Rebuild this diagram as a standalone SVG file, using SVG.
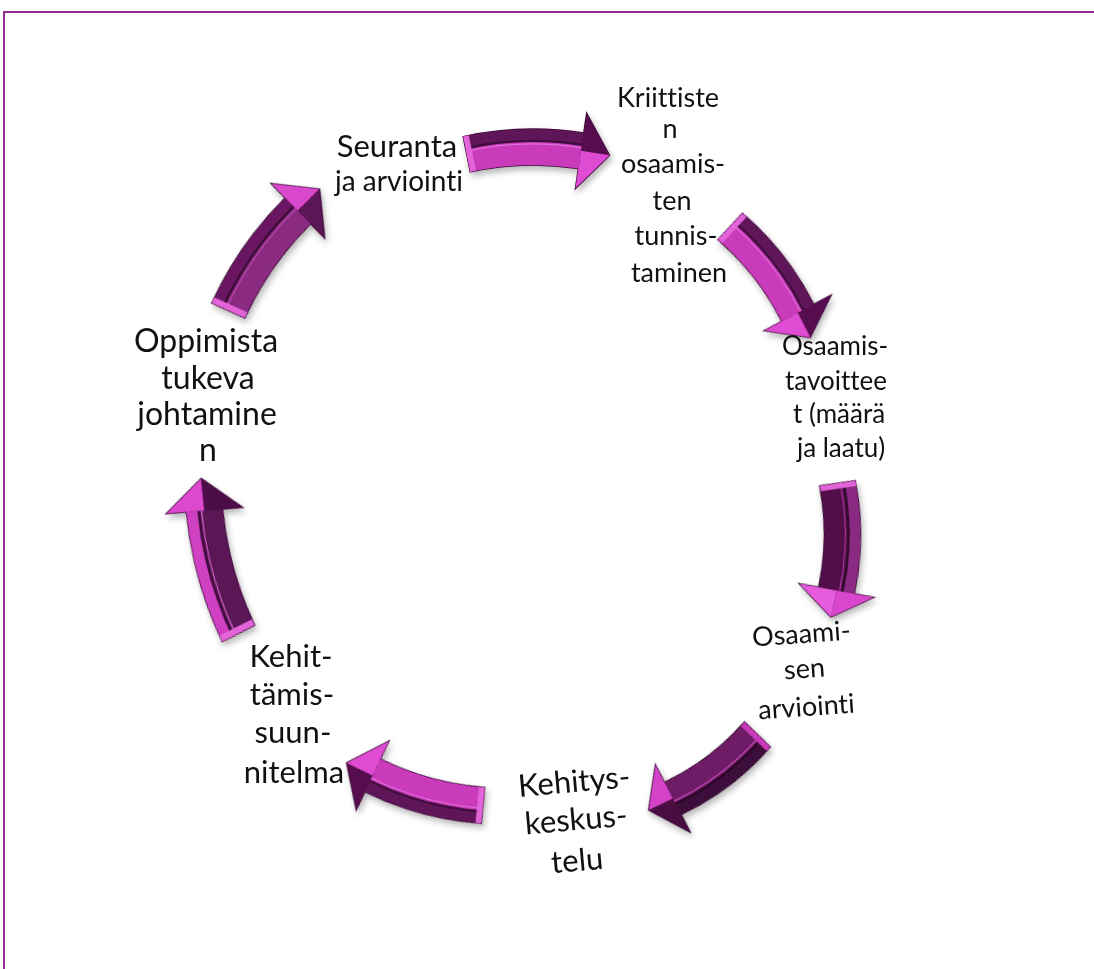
<svg xmlns="http://www.w3.org/2000/svg" xmlns:xlink="http://www.w3.org/1999/xlink" width="1094" height="969" viewBox="0 0 1094 969">
<style>
  text { font-family: Lato, "Open Sans", "Liberation Sans", sans-serif; fill: #111; text-anchor: middle; font-variant-ligatures: none; font-feature-settings: "liga" 0, "clig" 0; }
  .frame { fill: none; stroke: #922c8f; stroke-width: 2; }
  .va { --s:#3c0a38; --o:#5f1559; --i:#c93bbb; --ho:#55114f; --hi:#df4bd2; --b:#e364d8; --g:#3e0b3a; --gl:#e070d6; }
  .vb { --s:#3c0a38; --o:#cf40c2; --i:#5a1454; --ho:#dc48cf; --hi:#4e0f49; --b:#e364d8; --g:#3e0b3a; --gl:#e070d6; }
  .vc { --s:#34082f; --o:#8a2a82; --i:#521049; --ho:#d946cc; --hi:#e65ade; --b:#e364d8; --g:#2e072a; --gl:#b23aa6; }
  .vd { --s:#2c0628; --o:#3e0c3a; --i:#6e1d66; --ho:#480e43; --hi:#d442c7; --b:#c93bbb; --g:#2a0626; --gl:#d24fc6; }
  .ve { --s:#34082f; --o:#6a1863; --i:#8a2c80; --ho:#d946cc; --hi:#5a1254; --b:#e364d8; --g:#3a0a35; --gl:#c24bb7; }
</style>
<defs>
  <filter id="sh" x="-20%" y="-20%" width="140%" height="150%">
    <feDropShadow dx="2" dy="4" stdDeviation="3" flood-color="#000" flood-opacity="0.28"/>
  </filter>
  <g id="arw">
    <path style="fill:var(--s);stroke:var(--s)" stroke-width="1.5" d="M -78.28,-17.08 A 348,348 0 0 1 47.23,-22.78 L 49.94,-42.6 L 74.5,-0.9 L 39.63,32.7 L 42.34,12.89 A 312,312 0 0 0 -70.18,18 Z"/>
    <path style="fill:var(--o)" d="M -78.28,-17.08 A 348,348 0 0 1 47.23,-22.78 L 45.6,-10.89 A 336,336 0 0 0 -75.58,-5.39 Z"/>
    <path style="fill:var(--i)" d="M -75.58,-5.39 A 336,336 0 0 1 45.6,-10.89 L 42.34,12.89 A 312,312 0 0 0 -70.18,18 Z"/>
    <path style="fill:none;stroke:var(--g)" stroke-width="2.2" d="M -75.58,-5.39 A 336,336 0 0 1 45.6,-10.89"/>
    <path style="fill:none;stroke:var(--gl)" stroke-width="1.2" d="M -74.9,-2.4 A 333,333 0 0 1 45.2,-7.9"/>
    <path style="fill:var(--b)" d="M -78.28,-17.08 L -72.43,-18.43 L -64.33,16.65 L -70.18,18 Z"/>
    <path style="fill:var(--ho)" d="M 49.94,-42.6 L 74.5,-0.9 L 44.79,-4.95 Z"/>
    <path style="fill:var(--hi)" d="M 44.79,-4.95 L 74.5,-0.9 L 39.63,32.7 Z"/>
  </g>
</defs>
<rect width="1094" height="969" fill="#ffffff"/>
<path class="frame" d="M 4,969 L 4,12 L 1094,12"/>

<g id="connectors" filter="url(#sh)">
  <use xlink:href="#arw" class="va" transform="translate(538,155) rotate(1) scale(0.96,1)"/>
  <use xlink:href="#arw" class="va" transform="translate(770,282) rotate(54.8) scale(0.92,1)"/>
  <use xlink:href="#arw" class="vc" transform="translate(834,550) rotate(93.4) scale(0.9,1)"/>
  <use xlink:href="#arw" class="vd" transform="translate(703,772) rotate(145.8) scale(0.89,1)"/>
  <use xlink:href="#arw" class="va" transform="translate(415,784) rotate(197.9) scale(0.96,1)"/>
  <use xlink:href="#arw" class="vb" transform="translate(220,556) rotate(257) scale(1.07,1)"/>
  <use xlink:href="#arw" class="ve" transform="translate(274,250) rotate(307.5) scale(1.02,1)"/>
</g>

<g id="node-seuranta">
  <text x="397" y="157" font-size="31">Seuranta</text>
  <text x="399" y="191" font-size="28">ja arviointi</text>
</g>
<g id="node-kriittisten">
  <text x="668" y="107" font-size="27">Kriittiste</text>
  <text x="670" y="138" font-size="27">n</text>
  <text x="673" y="173" font-size="27">osaamis-</text>
  <text x="672" y="210" font-size="27">ten</text>
  <text x="676" y="245" font-size="27">tunnis-</text>
  <text x="679" y="282" font-size="27">taminen</text>
</g>
<g id="node-osaamistavoitteet">
  <text x="835" y="355" font-size="26">Osaamis-</text>
  <text x="836" y="390" font-size="26">tavoittee</text>
  <text x="839" y="423" font-size="26">t (määrä</text>
  <text x="841" y="457" font-size="26">ja laatu)</text>
</g>
<g id="node-osaamisen-arviointi">
  <text x="802" y="643" font-size="27" transform="rotate(-4 802 643)">Osaami-</text>
  <text x="805" y="678" font-size="27" transform="rotate(-4 805 678)">sen</text>
  <text x="807" y="716" font-size="27" transform="rotate(-4 807 716)">arviointi</text>
</g>
<g id="node-kehityskeskustelu">
  <text x="575" y="792" font-size="31" transform="rotate(-5 575 792)">Kehitys-</text>
  <text x="577" y="830" font-size="31" transform="rotate(-5 577 830)">keskus-</text>
  <text x="578" y="871" font-size="31" transform="rotate(-5 578 871)">telu</text>
</g>
<g id="node-kehittamissuunnitelma">
  <text x="291" y="667" font-size="31">Kehit-</text>
  <text x="292" y="705" font-size="31">tämis-</text>
  <text x="293" y="743" font-size="31">suun-</text>
  <text x="294" y="783" font-size="31">nitelma</text>
</g>
<g id="node-oppimista">
  <text x="206" y="352" font-size="32">Oppimista</text>
  <text x="208" y="388.5" font-size="32">tukeva</text>
  <text x="207" y="425" font-size="32">johtamine</text>
  <text x="208" y="461" font-size="32">n</text>
</g>
</svg>
